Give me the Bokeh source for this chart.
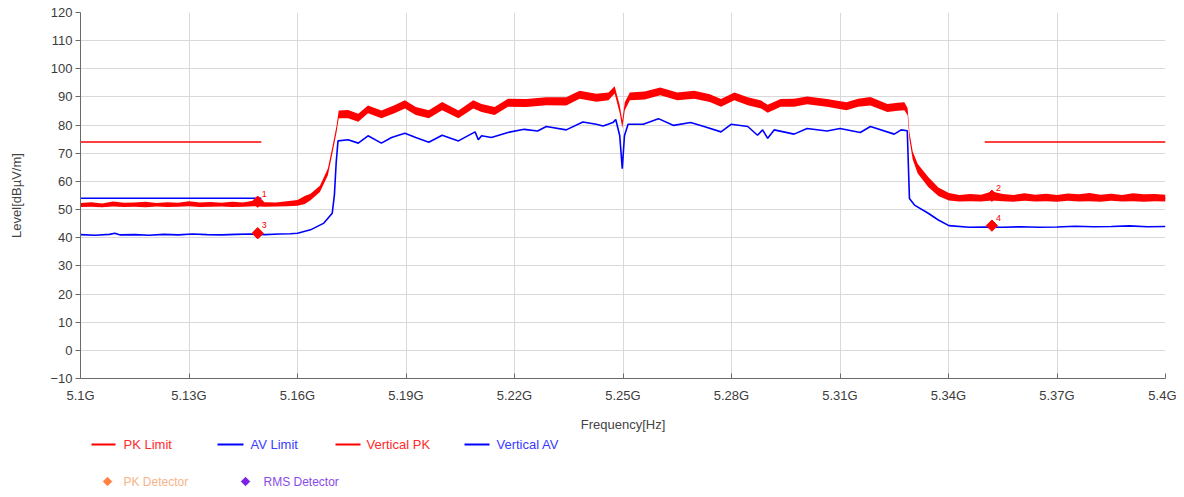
from bokeh.plotting import figure
from bokeh.models import Range1d, FixedTicker, ColumnDataSource
from bokeh.layouts import column
from bokeh.embed import file_html
from bokeh.resources import INLINE
from bokeh.core.properties import value

# ---------------- data ----------------
x_ticks = [5.10, 5.13, 5.16, 5.19, 5.22, 5.25, 5.28, 5.31, 5.34, 5.37, 5.40]
x_tick_labels = ["5.1G", "5.13G", "5.16G", "5.19G", "5.22G", "5.25G",
                 "5.28G", "5.31G", "5.34G", "5.37G", "5.4G"]
y_ticks = [-10, 0, 10, 20, 30, 40, 50, 60, 70, 80, 90, 100, 110, 120]

# limit lines (start freq, end freq)
lim_f0 = [5.10, 5.35]
lim_f1 = [5.15, 5.40]
pk_limit = [74, 74]
av_limit = [54, 54]

# Vertical PK trace: noise envelope (low / high) in dBuV/m
pk_f = [5.100, 5.103, 5.106, 5.109, 5.112, 5.115, 5.118, 5.121, 5.124, 5.127,
        5.130, 5.133, 5.136, 5.139, 5.142, 5.145, 5.148, 5.151, 5.154, 5.157,
        5.160, 5.162, 5.1636, 5.1662, 5.1684, 5.1697, 5.1708,
        5.1714, 5.1740, 5.1768, 5.1795, 5.1832, 5.1868, 5.1897, 5.1927, 5.1963,
        5.2000, 5.2045, 5.2086, 5.2109, 5.2145, 5.2182, 5.2233, 5.2288, 5.2343,
        5.2380, 5.2426, 5.2460, 5.2477, 5.2491, 5.2498, 5.2505, 5.2519, 5.2560,
        5.2603, 5.2650, 5.2697, 5.2740, 5.2771, 5.2808, 5.2845, 5.2882, 5.2900,
        5.2936, 5.2973, 5.3009, 5.3064, 5.3118, 5.3150, 5.3184, 5.3231, 5.3260,
        5.3278, 5.3287, 5.3292, 5.3301, 5.3315, 5.3344, 5.3372, 5.3401, 5.3430,
        5.346, 5.349, 5.352, 5.355, 5.358, 5.361, 5.364, 5.367, 5.370, 5.373,
        5.376, 5.379, 5.382, 5.385, 5.388, 5.391, 5.394, 5.397, 5.400]
pk_lo = [50.9, 51.0, 50.8, 51.1, 50.9, 51.0, 50.8, 51.1, 50.9, 51.0,
         51.2, 50.9, 51.0, 51.1, 50.9, 51.0, 51.2, 51.0, 51.1, 51.2,
         51.4, 52.0, 53.3, 56.2, 62.2, 70.4, 77.5,
         82.4, 82.4, 81.2, 84.2, 82.4, 84.2, 85.9, 83.6, 82.4,
         85.3, 82.4, 85.9, 84.7, 83.6, 86.5, 86.4, 87.1, 87.0,
         89.4, 88.3, 88.8, 91.2, 84.2, 79.0, 85.3, 88.8, 89.1,
         90.6, 88.8, 89.4, 88.2, 86.5, 88.8, 87.1, 85.9, 84.4,
         86.5, 86.5, 87.4, 86.5, 85.3, 86.5, 87.0, 84.7, 85.1,
         85.3, 83.5, 75.0, 67.8, 62.8, 58.0, 54.8, 53.2, 52.9,
         53.0, 52.9, 53.2, 53.0, 52.8, 53.1, 52.9, 53.0, 52.8, 53.1,
         52.9, 53.0, 52.8, 53.1, 52.9, 53.0, 52.8, 53.0, 52.9]
pk_hi = [52.3, 52.6, 52.2, 52.9, 52.4, 52.5, 52.8, 52.3, 52.6, 52.4,
         53.0, 52.5, 52.7, 52.4, 52.8, 52.5, 53.2, 52.6, 52.5, 53.0,
         53.4, 54.8, 55.6, 58.5, 64.6, 72.6, 79.8,
         85.2, 85.4, 84.0, 87.0, 85.2, 87.1, 88.8, 86.4, 85.3,
         88.2, 85.2, 88.8, 87.5, 86.4, 89.4, 89.3, 89.9, 89.9,
         92.2, 91.1, 91.6, 93.8, 87.0, 81.6, 88.1, 91.6, 91.9,
         93.4, 91.6, 92.2, 91.0, 89.3, 91.6, 89.9, 88.7, 87.2,
         89.3, 89.4, 90.2, 89.3, 88.1, 89.4, 90.0, 87.5, 87.9,
         88.1, 86.0, 77.5, 70.6, 66.2, 61.6, 57.8, 55.9, 55.2,
         55.5, 55.3, 56.4, 55.5, 55.2, 55.8, 55.3, 55.6, 55.2, 55.7,
         55.4, 55.9, 55.3, 55.6, 55.2, 55.8, 55.4, 55.5, 55.3]

# Vertical AV trace
av_f = [5.100, 5.104, 5.108, 5.1095, 5.111, 5.115, 5.119, 5.123, 5.127, 5.131,
        5.135, 5.139, 5.143, 5.147, 5.151, 5.155, 5.158, 5.160, 5.1636, 5.1673,
        5.1696, 5.1702, 5.1707, 5.1712, 5.1740, 5.1768, 5.1795, 5.1832, 5.1860,
        5.1897, 5.1927, 5.1963, 5.2000, 5.2045, 5.2091, 5.2100, 5.2109, 5.2136,
        5.2182, 5.2227, 5.2264, 5.2288, 5.2343, 5.2389, 5.2426, 5.2445, 5.2472,
        5.2480, 5.2491, 5.2498, 5.2504, 5.2514, 5.2556, 5.2598, 5.2640, 5.2687,
        5.2724, 5.2771, 5.2799, 5.2845, 5.2872, 5.2886, 5.2900, 5.2918, 5.2973,
        5.3009, 5.3064, 5.3100, 5.3156, 5.3184, 5.3250, 5.3269, 5.3286, 5.3292,
        5.3306, 5.3344, 5.3372, 5.3401, 5.3457, 5.350, 5.355, 5.360, 5.365,
        5.370, 5.375, 5.380, 5.385, 5.390, 5.395, 5.400]
av_v = [41.1, 40.9, 41.2, 41.6, 41.0, 41.1, 40.9, 41.2, 41.0, 41.3,
        41.1, 41.0, 41.2, 41.3, 41.1, 41.3, 41.4, 41.6, 42.8, 45.2,
        48.7, 55.1, 66.8, 74.4, 74.8, 73.6, 76.2, 73.6, 75.6,
        77.1, 75.6, 73.9, 76.4, 74.4, 77.6, 74.8, 76.2, 75.6,
        77.4, 78.5, 77.9, 79.5, 78.3, 81.1, 80.3, 79.7, 80.9,
        82.0, 76.2, 64.5, 76.2, 80.3, 80.3, 82.3, 79.9, 80.9,
        79.5, 77.6, 80.3, 79.5, 76.4, 78.3, 75.3, 78.3, 76.8,
        78.8, 77.9, 78.8, 77.4, 79.5, 76.8, 78.3, 78.0, 53.9,
        51.6, 48.7, 46.3, 44.3, 43.7, 43.8, 43.7, 43.9, 43.7,
        43.8, 44.1, 43.9, 44.0, 44.2, 43.9, 44.0]

# marker points
mk_f = [5.149, 5.352, 5.149, 5.352]
mk_v = [52.8, 54.9, 41.6, 44.3]
mk_lbl = ["1", "2", "3", "4"]

# legend entries
legend_labels = ["PK Limit", "AV Limit", "Vertical PK", "Vertical AV"]
legend_colors = ["#ff0000", "#0000ff", "#ff0000", "#0000ff"]
legend_text_colors = ["#ff2a2a", "#3a3aff", "#ff2a2a", "#3a3aff"]
det_labels = ["PK Detector", "RMS Detector"]
det_colors = ["#ff8040", "#7a22e6"]
det_text_colors = ["#f6b48a", "#8a4ce8"]

FONT = "Liberation Sans"
RED = "#ff0000"
BLUE = "#0000ff"

# ---------------- main chart ----------------
p = figure(width=1176, height=434, output_backend="svg", toolbar_location=None,
           x_range=Range1d(5.1, 5.4), y_range=Range1d(-10, 120),
           min_border_left=80, min_border_right=11, min_border_top=12,
           min_border_bottom=52)
p.outline_line_color = None
p.background_fill_color = "white"

p.xaxis.ticker = FixedTicker(ticks=x_ticks)
p.xaxis.major_label_overrides = {t: l for t, l in zip(x_ticks, x_tick_labels)}
p.yaxis.ticker = FixedTicker(ticks=y_ticks)
p.xaxis.minor_tick_line_color = None
p.yaxis.minor_tick_line_color = None

for ax in (p.xaxis, p.yaxis):
    ax.axis_line_color = "#6a6a6a"
    ax.major_tick_line_color = "#6a6a6a"
    ax.major_label_text_font = FONT
    ax.major_label_text_font_size = "13px"
    ax.major_label_text_color = "#3c3c3c"
    ax.axis_label_text_font = FONT
    ax.axis_label_text_font_size = "13px"
    ax.axis_label_text_font_style = "normal"
    ax.axis_label_text_color = "#444444"

p.xaxis.major_tick_in = 5
p.xaxis.major_tick_out = 0
p.xaxis.major_label_standoff = 9
p.xaxis.axis_label = "Frequency[Hz]"
p.xaxis.axis_label_standoff = 11

p.yaxis.major_tick_in = 0
p.yaxis.major_tick_out = 5
p.yaxis.major_label_standoff = 3
p.yaxis.axis_label = "Level[dBµV/m]"
p.yaxis.axis_label_standoff = 23

p.xgrid.grid_line_color = "#d9d9d9"
p.ygrid.grid_line_color = "#d9d9d9"
p.xgrid.ticker = FixedTicker(ticks=x_ticks)
p.ygrid.ticker = FixedTicker(ticks=y_ticks)

# limit lines
p.segment(x0=lim_f0, y0=av_limit, x1=lim_f1, y1=av_limit, line_color=BLUE, line_width=1.6)
p.segment(x0=lim_f0, y0=pk_limit, x1=lim_f1, y1=pk_limit, line_color=RED, line_width=1.6)

# traces
p.line(av_f, av_v, line_color=BLUE, line_width=1.6)
p.varea(x=pk_f, y1=pk_lo, y2=pk_hi, fill_color=RED, fill_alpha=1.0)

# markers
msrc = ColumnDataSource(dict(f=mk_f, v=mk_v, t=mk_lbl))
p.scatter("f", "v", source=msrc, marker="square", angle=0.785398, size=8,
          fill_color=RED, line_color=RED)
p.text("f", "v", text="t", source=msrc, x_offset=4, y_offset=-5,
       text_font=value(FONT), text_font_size="9px", text_color=RED,
       text_baseline="bottom", text_align="left")

# ---------------- legend strip (frame aligned with the chart frame) ----------------
lg = figure(width=1176, height=55, output_backend="svg", toolbar_location=None,
            x_range=Range1d(80, 1165), y_range=Range1d(489, 434),
            min_border_left=80, min_border_right=11, min_border_top=0,
            min_border_bottom=0)
lg.axis.visible = False
lg.grid.visible = False
lg.outline_line_color = None

# layout positions of the legend items (page px)
row1_y = [444, 444, 444, 444]
row1_x0 = [91, 217, 335, 464]
row1_x1 = [115, 243, 360, 489]
row1_tx = [123, 250, 366, 496]
row2_y = [481, 481]
row2_mx = [107, 245]
row2_tx = [123, 263]

lg.segment(x0=row1_x0, y0=row1_y, x1=row1_x1, y1=row1_y,
           line_color=legend_colors, line_width=2.2)
lg.text(x=row1_tx, y=row1_y, text=legend_labels, text_color=legend_text_colors,
        text_font=value(FONT), text_font_size="13px", text_baseline="middle",
        text_align="left")
lg.scatter(x=row2_mx, y=row2_y, marker="square", angle=0.785398, size=6,
           fill_color=det_colors, line_color=det_colors)
lg.text(x=row2_tx, y=row2_y, text=det_labels, text_color=det_text_colors,
        text_font=value(FONT), text_font_size="12px", text_baseline="middle",
        text_align="left")

layout = column(p, lg, spacing=0)
open("out.html", "w").write(file_html(layout, INLINE))
